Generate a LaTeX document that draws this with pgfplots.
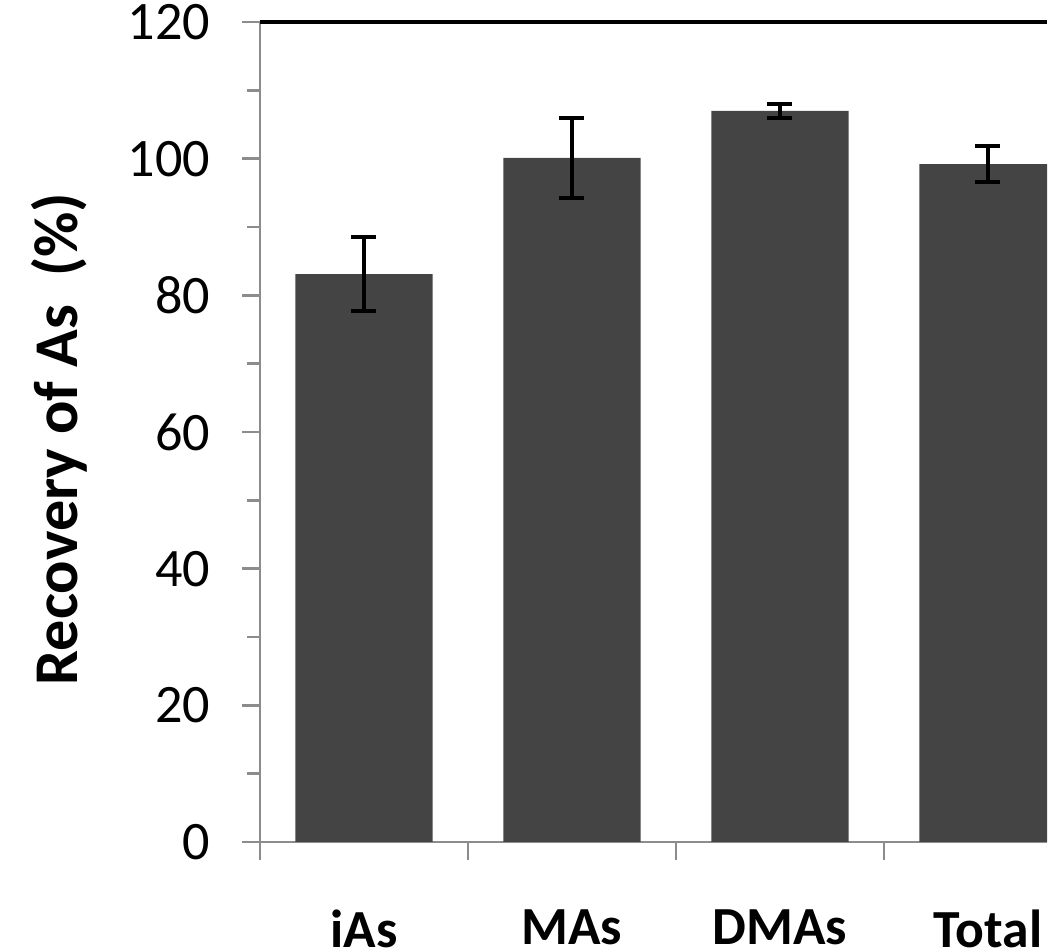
\documentclass[border=0pt]{standalone}
\usepackage{fontspec}
\setmainfont{Carlito}
\usepackage{pgfplots}
\pgfplotsset{compat=1.18}
\definecolor{barc}{HTML}{444444}
\definecolor{axc}{HTML}{8C8C8C}
\begin{document}
\begin{tikzpicture}
\begin{axis}[name=ax, at={(0,0)}, anchor=south west, scale only axis,
  width=283.32pt, height=295.2pt,
  xmin=-0.5, xmax=3.284, ymin=0, ymax=120,
  ybar, bar width=0.66,
  axis x line*=bottom, axis y line*=left,
  axis line style={axc, line width=1pt, -},
  tick align=outside,
  major tick length=6.48pt, minor tick length=4.68pt,
  every tick/.style={axc, line width=1pt},
  ytick={0,20,...,120}, minor y tick num=1,
  xtick={-0.5,0.5,1.5,2.5}, xticklabels={},
  extra x ticks={0,1,2,3}, extra x tick labels={iAs,MAs,DMAs,Total},
  extra x tick style={major tick length=0pt},
  /pgf/number format/assume math mode=true,
  yticklabel style={font=\fontsize{19.5}{22}\selectfont, text=black, xshift=-8pt},
  xticklabel style={font=\fontsize{19.3}{22}\selectfont\bfseries, anchor=north, yshift=-20.8pt, text=black},
  ylabel={Recovery of As\ \ (\%)},
  ylabel style={font=\fontsize{22.4}{26}\selectfont\bfseries, at={(axis description cs:-0.2556,0.4915)}, anchor=center},
]
\addplot[fill=barc, draw=none,
  error bars/.cd, y dir=both, y explicit,
  error bar style={black, line width=1.4pt},
  error mark options={black, line width=1.4pt, mark size=4.5pt, rotate=90}]
  table[x=x, y=y, y error=e] {
x y e
0 83.1 5.4
1 100.1 5.9
2 107.0 1.0
3 99.2 2.6
};
\end{axis}
\draw[black, line width=1.1pt] (ax.north west) -- (ax.north east);
\pgfresetboundingbox
\path (-93.6pt,-38.16pt) rectangle (284.4pt,303.12pt);
\end{tikzpicture}
\end{document}
